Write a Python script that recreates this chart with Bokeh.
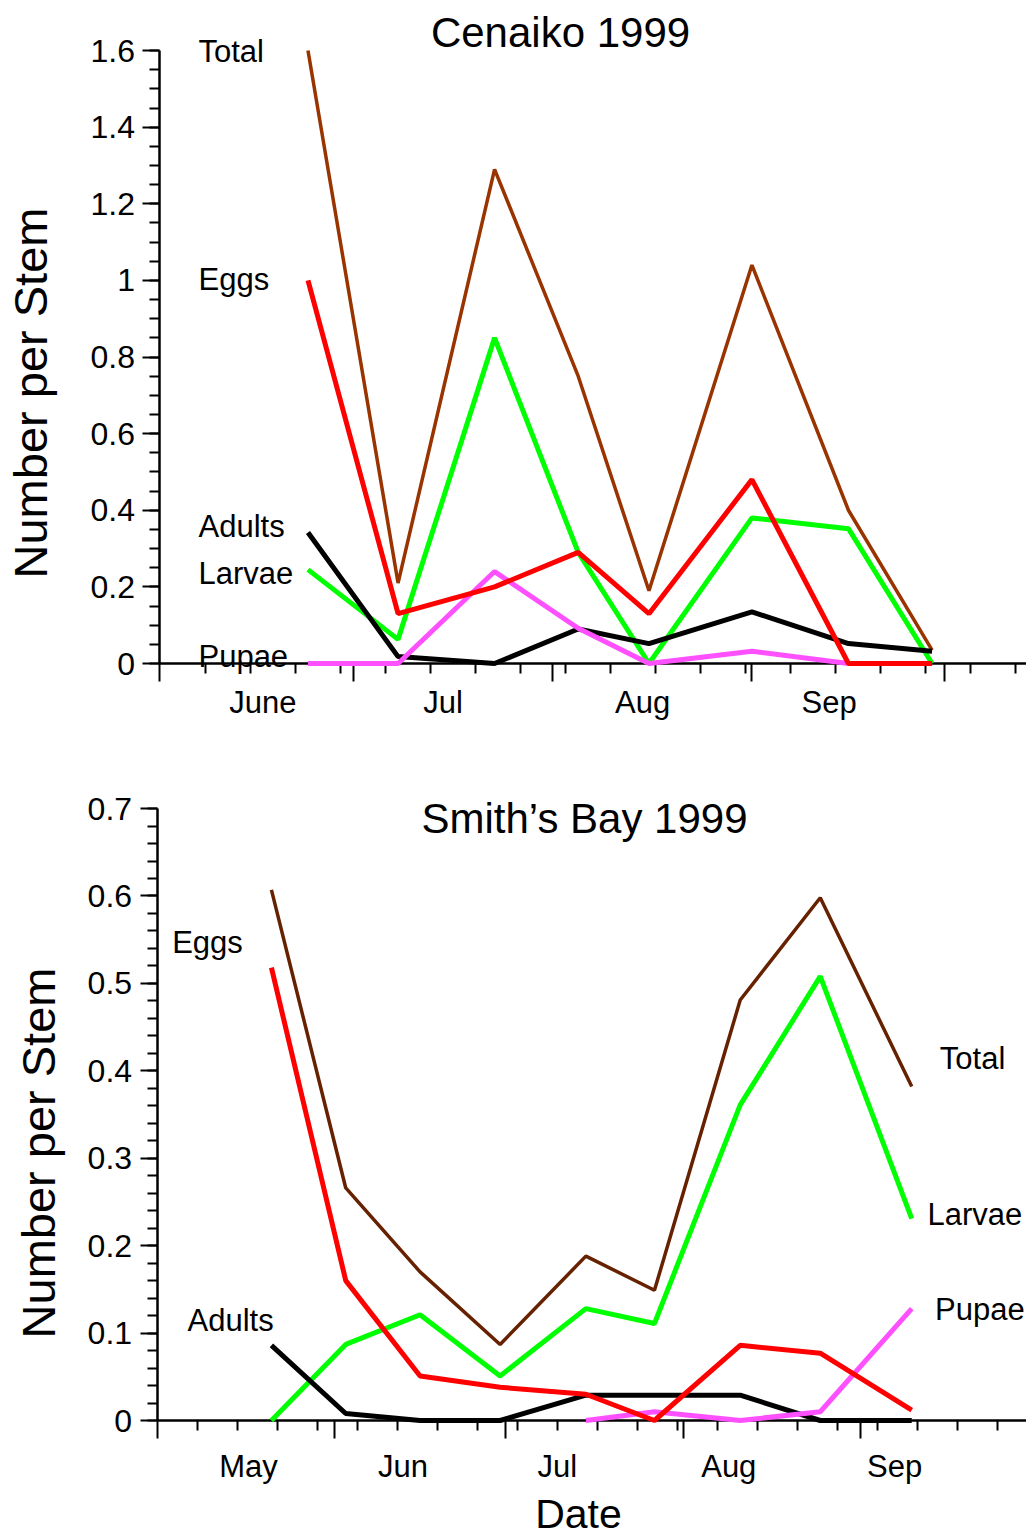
import math
import numpy as np
import pandas as pd
from bokeh.plotting import figure
from bokeh.models import Range1d, LinearAxis, FixedTicker, Label
from bokeh.layouts import column
from bokeh.embed import file_html
from bokeh.resources import INLINE

FONT = "Liberation Sans"

# ---------------- Cenaiko 1999 ----------------
cen_dates = ["1999-06-24", "1999-07-08", "1999-07-23", "1999-08-05",
             "1999-08-16", "1999-09-01", "1999-09-16", "1999-09-29"]
cen_total = [1.60, 0.21, 1.29, 0.75, 0.19, 1.04, 0.40, 0.035]
cen_eggs = [1.00, 0.13, 0.20, 0.29, 0.13, 0.48, 0.00, 0.00]
cen_larvae = [0.245, 0.063, 0.85, 0.29, 0.00, 0.38, 0.352, 0.00]
cen_adults = [0.342, 0.018, 0.00, 0.09, 0.052, 0.135, 0.052, 0.032]
cen_pupae = [0.00, 0.00, 0.24, 0.092, 0.00, 0.032, 0.00, 0.00]

cen_month_starts = ["1999-06-01", "1999-07-01", "1999-08-01", "1999-09-01", "1999-10-01"]
cen_month_labels = ["June", "Jul", "Aug", "Sep"]
cen_month_label_dates = ["1999-06-17", "1999-07-15", "1999-08-15", "1999-09-13"]
cen_week_start, cen_week_end = "1999-06-08", "1999-10-12"
cen_yticks = [0.0, 0.2, 0.4, 0.6, 0.8, 1.0, 1.2, 1.4, 1.6]
cen_ylabels = ["0", "0.2", "0.4", "0.6", "0.8", "1", "1.2", "1.4", "1.6"]

# ---------------- Smith's Bay 1999 ----------------
smb_dates = ["1999-05-21", "1999-06-03", "1999-06-16", "1999-06-30", "1999-07-15",
             "1999-07-27", "1999-08-11", "1999-08-25", "1999-09-10"]
smb_total = [0.607, 0.266, 0.170, 0.087, 0.188, 0.149, 0.481, 0.598, 0.382]
smb_eggs = [0.518, 0.160, 0.051, 0.038, 0.030, 0.00, 0.086, 0.077, 0.012]
smb_larvae = [0.00, 0.087, 0.121, 0.051, 0.128, 0.111, 0.361, 0.508, 0.231]
smb_adults = [0.086, 0.008, 0.00, 0.00, 0.029, 0.029, 0.029, 0.00, 0.00]
smb_pupae = [None, None, None, None, 0.00, 0.010, 0.00, 0.010, 0.128]

smb_month_starts = ["1999-05-01", "1999-06-01", "1999-07-01", "1999-08-01", "1999-09-01"]
smb_month_labels = ["May", "Jun", "Jul", "Aug", "Sep"]
smb_month_label_dates = ["1999-05-17", "1999-06-13", "1999-07-10", "1999-08-09", "1999-09-07"]
smb_week_start, smb_week_end = "1999-05-08", "1999-09-25"
smb_yticks = [0.0, 0.1, 0.2, 0.3, 0.4, 0.5, 0.6, 0.7]
smb_ylabels = ["0", "0.1", "0.2", "0.3", "0.4", "0.5", "0.6", "0.7"]

COLORS_TOP = {"Total": "#993300", "Larvae": "#00ff00", "Adults": "#000000",
              "Pupae": "#ff50ff", "Eggs": "#ff0000"}
COLORS_BOT = {"Total": "#662200", "Larvae": "#00ff00", "Adults": "#000000",
              "Pupae": "#ff50ff", "Eggs": "#ff0000"}


def doy(lst):
    return [int(d) for d in pd.to_datetime(lst).dayofyear]


def arr(lst):
    return np.array([np.nan if v is None else v for v in lst], dtype=float)


def panel(dates, series, colors, x_range, y_range, height, x0,
          month_starts, week_start, week_end, label_dates, month_labels, label_standoff,
          yticks, ylabels, yminor):
    p = figure(width=1026, height=height, frame_width=1026, frame_height=height,
               x_range=Range1d(*x_range), y_range=Range1d(*y_range),
               x_axis_type=None, y_axis_type=None,
               toolbar_location=None, output_backend="svg",
               min_border=0, min_border_left=0, min_border_right=0,
               min_border_top=0, min_border_bottom=0)
    p.outline_line_color = None

    x = doy(dates)
    for name, vals in series:
        p.line(x, arr(vals), line_color=colors[name],
               line_width=3.5 if name == "Total" else 5, level="overlay")

    ms = doy(month_starts)
    weeks = doy(pd.date_range(week_start, week_end, freq="7D"))
    xa = LinearAxis(fixed_location=0, bounds=(x0, x_range[1]),
                    ticker=FixedTicker(ticks=ms, minor_ticks=weeks),
                    major_label_overrides={t: "" for t in ms},
                    major_label_text_color=None, major_label_standoff=0,
                    major_tick_out=18, major_tick_in=0, minor_tick_out=10, minor_tick_in=0,
                    axis_line_width=2.5, major_tick_line_width=2, minor_tick_line_width=2)
    lt = doy(label_dates)
    xb = LinearAxis(fixed_location=0,
                    ticker=FixedTicker(ticks=lt, minor_ticks=[]),
                    major_label_overrides=dict(zip(lt, month_labels)),
                    axis_line_color=None, major_tick_line_color=None, minor_tick_line_color=None,
                    major_tick_out=0, major_tick_in=0, minor_tick_out=0, minor_tick_in=0,
                    major_label_standoff=label_standoff, major_label_text_color="black",
                    major_label_text_font=FONT, major_label_text_font_size="31px")
    p.add_layout(xa, "below")
    p.add_layout(xb, "below")

    ya = LinearAxis(fixed_location=x0, bounds=(yticks[0], yticks[-1]),
                    ticker=FixedTicker(ticks=yticks, minor_ticks=yminor),
                    major_label_overrides=dict(zip(yticks, ylabels)),
                    major_tick_out=17, major_tick_in=0, minor_tick_out=10, minor_tick_in=0,
                    axis_line_width=2.5, major_tick_line_width=2, minor_tick_line_width=2,
                    major_label_standoff=8, major_label_text_color="black",
                    major_label_text_font=FONT, major_label_text_font_size="32px")
    p.add_layout(ya, "left")
    return p


def lab(p, x, y, text, size="31px", align="left", angle=0.0):
    p.add_layout(Label(x=x, y=y, text=text, text_font=FONT, text_font_size=size,
                       text_align=align, text_baseline="middle", angle=angle,
                       text_color="black"))


# top panel: 6.434 px/day, June 1 at x=159.5 px; y=0 at 663 px, 383.1 px/unit
top_series = [("Total", cen_total), ("Larvae", cen_larvae), ("Adults", cen_adults),
              ("Pupae", cen_pupae), ("Eggs", cen_eggs)]
p1 = panel(cen_dates, top_series, COLORS_TOP,
           x_range=(127.21, 127.21 + 1026 / 6.434), y_range=(-87 / 383.1, 663 / 383.1),
           height=750, x0=152,
           month_starts=cen_month_starts, week_start=cen_week_start, week_end=cen_week_end,
           label_dates=cen_month_label_dates, month_labels=cen_month_labels, label_standoff=21,
           yticks=cen_yticks, ylabels=cen_ylabels, yminor=[i * 0.05 for i in range(33)])
lab(p1, 214.25, 1.647, "Cenaiko 1999", size="42px", align="center")
lab(p1, 157.98, 1.597, "Total")
lab(p1, 157.98, 1.002, "Eggs")
lab(p1, 157.98, 0.358, "Adults")
lab(p1, 157.98, 0.236, "Larvae")
lab(p1, 157.98, 0.018, "Pupae")
lab(p1, 131.9, 0.706, "Number per Stem", size="47px", align="center", angle=math.pi / 2)

# bottom panel: 5.717 px/day, May 1 at x=156.6 px; y=0 at 670 px (local), 874.2 px/unit
bot_series = [("Total", smb_total), ("Larvae", smb_larvae), ("Adults", smb_adults),
              ("Pupae", smb_pupae), ("Eggs", smb_eggs)]
p2 = panel(smb_dates, bot_series, COLORS_BOT,
           x_range=(93.61, 93.61 + 1026 / 5.717), y_range=(-119 / 874.2, 670 / 874.2),
           height=789, x0=121,
           month_starts=smb_month_starts, week_start=smb_week_start, week_end=smb_week_end,
           label_dates=smb_month_label_dates, month_labels=smb_month_labels, label_standoff=28,
           yticks=smb_yticks, ylabels=smb_ylabels, yminor=[i * 0.02 for i in range(36)])
lab(p2, 195.76, 0.689, "Smith\u2019s Bay 1999", size="42px", align="center")
lab(p2, 123.64, 0.547, "Eggs")
lab(p2, 126.32, 0.114, "Adults")
lab(p2, 257.91, 0.414, "Total")
lab(p2, 255.76, 0.236, "Larvae")
lab(p2, 257.07, 0.127, "Pupae")
lab(p2, 100.2, 0.306, "Number per Stem", size="47px", align="center", angle=math.pi / 2)
lab(p2, 194.71, -0.1075, "Date", size="41px", align="center")

layout = column(p1, p2, spacing=0)
open("out.html", "w").write(file_html(layout, INLINE))
